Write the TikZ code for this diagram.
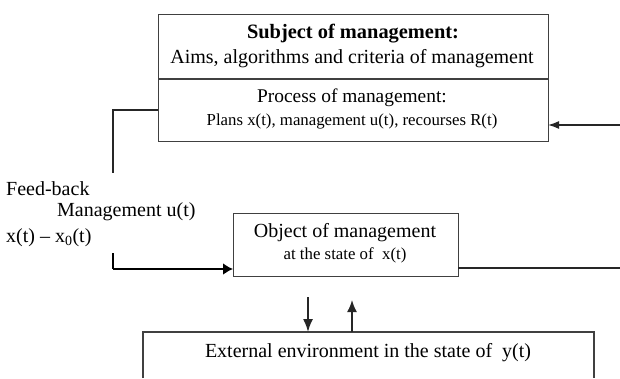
\documentclass[tikz,border=0pt]{standalone}
\usepackage{fontspec}
\setmainfont{Liberation Serif}
\usetikzlibrary{arrows.meta}
\begin{document}
\begin{tikzpicture}[x=1pt,y=-1pt,
  boxline/.style={draw=black!75,line width=1.3pt},
  conn/.style={draw=black!85,line width=1.2pt},
  arr/.style={conn,-{Latex[length=11pt,width=8pt]}},
  thickarr/.style={draw=black,line width=2.8pt,-{Latex[length=10pt,width=12pt]}},
  txt/.style={inner sep=0pt,font=\fontsize{20}{22}\selectfont},
  small/.style={inner sep=0pt,font=\fontsize{16.8}{18}\selectfont}]
\useasboundingbox (0,0) rectangle (620,378);
% top box
\node[boxline,minimum width=390pt,minimum height=127pt,anchor=north west,inner sep=0pt] (subj) at (158,14) {};
\coordinate (divL) at (158,79);
\coordinate (divR) at (548,79);
\draw[boxline] (divL) -- (divR);
\node[txt,font=\bfseries\fontsize{20.4}{22}\selectfont] (t1) at (353,34) {Subject of management:};
\node[txt] (t2) at (352,59) {Aims, algorithms and criteria of management};
\node[txt,font=\fontsize{19.4}{21}\selectfont] (t3) at (352,98) {Process of management:};
\node[small] (t4) at (352,121) {Plans x(t), management u(t), recourses R(t)};
% right arrow into top box
\coordinate (rin) at (620,125);
\coordinate (rinEnd) at (548,125);
\draw[arr,line width=1.5pt] (rin) -- (rinEnd);
% feedback line
\coordinate (fb0) at (158,110);
\coordinate (fb1) at (113,110);
\coordinate (fb2) at (113,173);
\draw[conn] (fb0) -- (fb1) -- (fb2);
% left labels
\node[txt,anchor=west] (lf1) at (6,189) {Feed-back};
\node[txt,anchor=west] (lf2) at (57,212) {Management u(t)};
\node[txt,anchor=west] (lf3) at (6,238) {x(t) – x\textsubscript{0}(t)};
% object box
\node[boxline,minimum width=225pt,minimum height=63pt,anchor=north west,inner sep=0pt] (obj) at (233,213) {};
\node[txt] (o1) at (345,233) {Object of management};
\node[small] (o2) at (345,255) {at the state of\ \ x(t)};
% thick arrow into object box
\coordinate (tk0) at (113,253);
\coordinate (tk1) at (113,269);
\coordinate (objin) at (233,269);
\draw[draw=black,line width=1.6pt] (tk0) -- (tk1);
\draw[thickarr] (tk1) -- (objin);
% line from object to right
\coordinate (objout) at (458,268);
\coordinate (rout) at (620,268);
\draw[conn] (objout) -- (rout);
% external environment box (open at bottom)
\coordinate (eBL) at (143,378);
\coordinate (eTL) at (143,332);
\coordinate (eTR) at (594,332);
\coordinate (eBR) at (594,378);
\draw[boxline] (eBL) -- (eTL) -- (eTR) -- (eBR);
\node[txt] (e1) at (368,353) {External environment in the state of\ \ y(t)};
% arrows between object and environment
\coordinate (d0) at (308,297);
\coordinate (d1) at (308,332);
\coordinate (u0) at (352,332);
\coordinate (u1) at (352,300);
\draw[arr,line width=1.7pt,-{Latex[length=13pt,width=10pt]}] (d0) -- (d1);
\draw[arr,line width=1.7pt,-{Latex[length=12pt,width=10pt]}] (u0) -- (u1);
\end{tikzpicture}
\end{document}
